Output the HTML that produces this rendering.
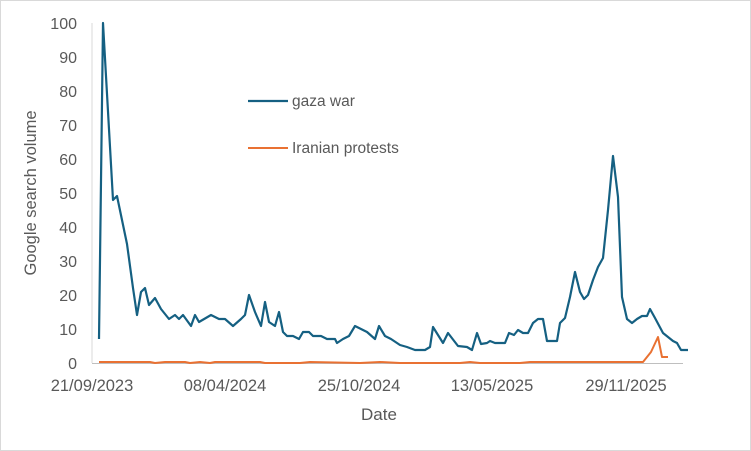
<!DOCTYPE html>
<html><head><meta charset="utf-8"><style>
body{margin:0;background:#fff;}
svg{display:block;font-family:"Liberation Sans",sans-serif;}
</style></head><body>
<svg width="751" height="451" viewBox="0 0 751 451">
<rect x="0.5" y="0.5" width="750" height="450" fill="#fff" stroke="#d9d9d9"/>
<g fill="#595959" font-size="16" text-anchor="end">
<text x="77" y="29">100</text><text x="77" y="63">90</text><text x="77" y="97">80</text>
<text x="77" y="131">70</text><text x="77" y="165">60</text><text x="77" y="199">50</text>
<text x="77" y="233">40</text><text x="77" y="267">30</text><text x="77" y="301">20</text>
<text x="77" y="335">10</text><text x="77" y="369">0</text>
</g>
<g fill="#595959" font-size="16.5" text-anchor="middle">
<text x="92" y="391">21/09/2023</text><text x="225" y="391">08/04/2024</text>
<text x="359" y="391">25/10/2024</text><text x="492" y="391">13/05/2025</text>
<text x="626" y="391">29/11/2025</text>
<text x="379" y="420" font-size="17">Date</text>
</g>
<text transform="translate(36,193) rotate(-90)" fill="#595959" font-size="16.5" text-anchor="middle">Google search volume</text>
<line x1="92" y1="23" x2="92" y2="363" stroke="#d9d9d9"/>
<line x1="92" y1="363.5" x2="683" y2="363.5" stroke="#bfbfbf"/>
<polyline fill="none" stroke="#156082" stroke-width="2.2" stroke-linejoin="round" points="99,339 103,23 113,200 117,196 127,244 133,288 137,315 141,292 145,288 149,305 155,298 161,309 169,319 175,315 179,319 183,315 191,326 195,315 199,322 211,315 219,319 225,319 233,326 241,319 245,315 249,295 255,312 261,326 265,302 269,322 275,326 279,312 283,332 287,336 293,336 299,339 303,332 309,332 313,336 321,336 327,339 335,339 337,343 343,339 349,336 355,326 361,329 367,332 375,339 379,326 385,336 391,339 400,345 407,347 415,350 425,350 430,347 433,327 443,343 448,333 458,346 467,347 472,350 477,333 481,344 487,343 490,341 495,343 505,343 509,333 514,335 518,330 523,333 528,333 533,323 538,319 543,319 547,341 557,341 560,323 565,318 570,297 575,272 580,292 584,299 588,295 593,280 598,267 603,258 608,210 613,156 618,197 622,297 627,319 632,323 637,319 642,316 647,316 650,309 655,318 663,333 668,337 673,341 677,343 681,350 688,350"/>
<polyline fill="none" stroke="#e97132" stroke-width="2" stroke-linejoin="round" points="99,362 150,362 155,363 165,362 185,362 190,363 200,362 210,363 215,362 260,362 265,363 300,363 310,362 360,363 380,362 400,363 460,363 470,362 480,363 520,363 530,362 560,362 643,362 651,352 658,337 662,357 668,357"/>
<line x1="248" y1="101" x2="288" y2="101" stroke="#156082" stroke-width="2.2"/>
<line x1="248" y1="148" x2="288" y2="148" stroke="#e97132" stroke-width="2"/>
<text x="292" y="106" fill="#595959" font-size="15.5">gaza war</text>
<text x="292" y="153" fill="#595959" font-size="15.5">Iranian protests</text>
</svg>
</body></html>
